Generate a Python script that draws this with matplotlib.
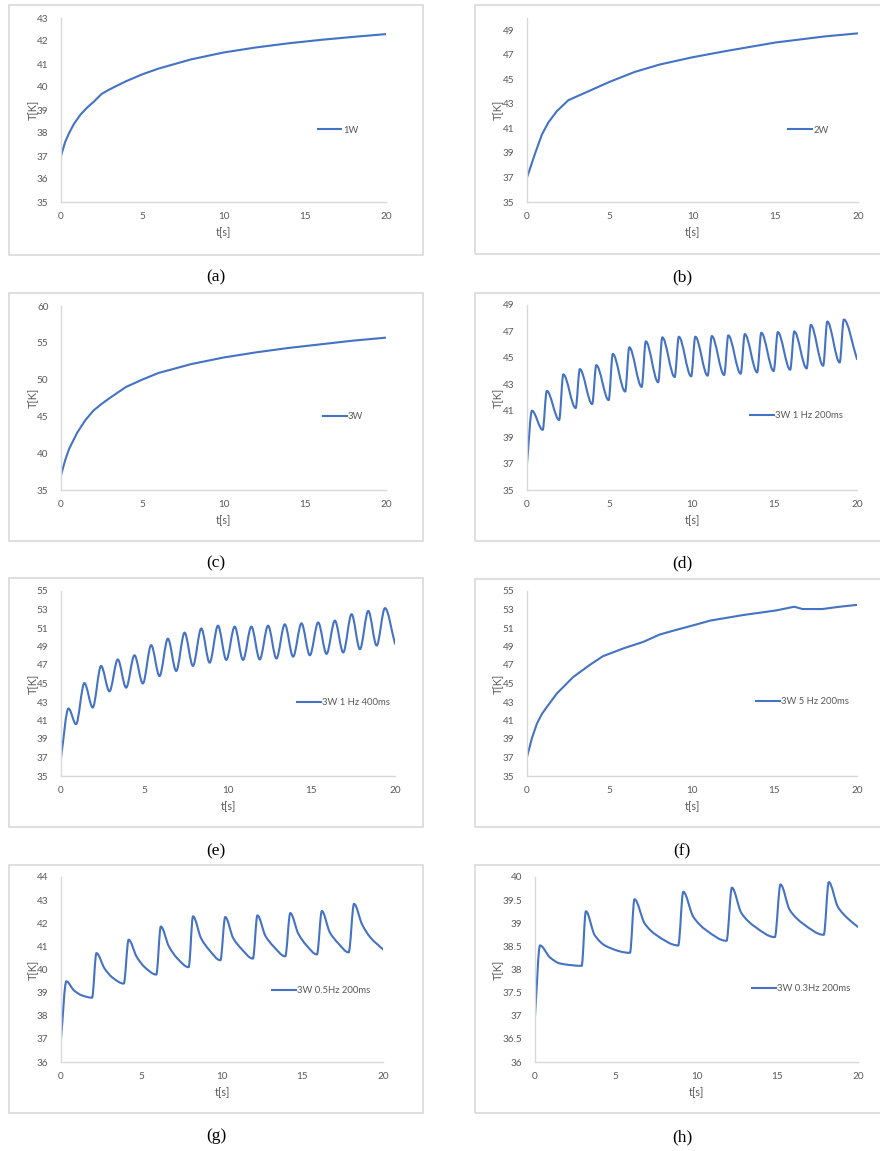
import matplotlib
matplotlib.use('Agg')
import matplotlib.pyplot as plt
from matplotlib.patches import Rectangle, PathPatch
from matplotlib.path import Path
from matplotlib.ticker import FuncFormatter

# ---- data ----
t_a = [0, 0.25, 0.5, 0.8, 1.2, 1.6, 2.0, 2.5, 3, 4, 5, 6, 7, 8, 10, 12, 14, 16, 18, 20]
T_a = [37.0, 37.6, 38.0, 38.4, 38.8, 39.1, 39.35, 39.7, 39.9, 40.25, 40.55, 40.8,
       41.0, 41.2, 41.5, 41.72, 41.9, 42.05, 42.18, 42.3]

t_b = [0, 0.25, 0.5, 0.9, 1.3, 1.8, 2.5, 3.5, 5, 6.5, 8, 10, 12, 15, 18, 20]
T_b = [37.0, 38.0, 39.0, 40.5, 41.5, 42.4, 43.3, 43.9, 44.8, 45.6, 46.2, 46.8,
       47.3, 48.0, 48.5, 48.75]

t_c = [0, 0.25, 0.5, 1.0, 1.5, 2.0, 2.5, 3.0, 4, 5, 6, 7, 8, 10, 12, 14, 16, 18, 20]
T_c = [37, 39.0, 40.6, 42.8, 44.5, 45.8, 46.7, 47.5, 49.0, 50.0, 50.9, 51.5,
       52.1, 53.0, 53.7, 54.3, 54.8, 55.3, 55.7]

t_d = [0, 0.3, 0.95, 1.2, 1.95, 2.2, 2.95, 3.2, 3.95, 4.2, 4.95, 5.2, 5.95, 6.2,
       6.95, 7.2, 7.95, 8.2, 8.95, 9.2, 9.95, 10.2, 10.95, 11.2, 11.95, 12.2,
       12.95, 13.2, 13.95, 14.2, 14.95, 15.2, 15.95, 16.2, 16.95, 17.2, 17.95,
       18.2, 18.95, 19.2, 20]
T_d = [37.0, 41.0, 39.55, 42.5, 40.3, 43.75, 41.2, 44.15, 41.5, 44.45, 41.8, 45.3,
       42.45, 45.8, 42.8, 46.25, 43.15, 46.55, 43.55, 46.6, 43.6, 46.6, 43.65,
       46.65, 43.7, 46.7, 43.8, 46.8, 43.9, 46.9, 44.0, 46.95, 44.1, 47.0, 44.2,
       47.5, 44.4, 47.75, 44.65, 47.9, 44.9]

t_e = [0, 0.45, 0.9, 1.4, 1.9, 2.4, 2.9, 3.4, 3.9, 4.4, 4.9, 5.4, 5.9, 6.4, 6.9,
       7.4, 7.9, 8.4, 8.9, 9.4, 9.9, 10.4, 10.9, 11.4, 11.9, 12.4, 12.9, 13.4,
       13.9, 14.4, 14.9, 15.4, 15.9, 16.4, 16.9, 17.4, 17.9, 18.4, 18.9, 19.4, 20]
T_e = [37.0, 42.3, 40.6, 45.05, 42.4, 46.9, 44.15, 47.6, 44.55, 48.05, 45.0, 49.15,
       45.8, 49.85, 46.35, 50.5, 46.9, 50.95, 47.25, 51.25, 47.55, 51.15, 47.55,
       51.15, 47.6, 51.25, 47.7, 51.4, 47.9, 51.5, 48.05, 51.6, 48.2, 51.8, 48.35,
       52.5, 48.7, 52.85, 49.1, 53.15, 49.3]

t_f = [0, 0.3, 0.6, 0.9, 1.2, 1.8, 2.8, 3.8, 4.6, 5.85, 7.05, 8.05, 9.05, 10.1,
       11.1, 12.1, 13.1, 14.1, 15.1, 16.2, 16.7, 17.9, 18.95, 20]
T_f = [37.05, 39.1, 40.65, 41.7, 42.45, 43.9, 45.7, 47.0, 47.95, 48.8, 49.5, 50.3,
       50.8, 51.3, 51.8, 52.1, 52.4, 52.65, 52.9, 53.3, 53.05, 53.05, 53.3, 53.5]

t_g = [0, 0.33, 0.8, 1.3, 1.93, 2.2, 2.7, 3.2, 3.9, 4.2, 4.7, 5.2, 5.92, 6.2, 6.7,
       7.2, 7.93, 8.2, 8.7, 9.2, 9.9, 10.2, 10.7, 11.2, 11.92, 12.2, 12.7, 13.2,
       13.93, 14.24, 14.74, 15.24, 15.9, 16.2, 16.7, 17.2, 17.87, 18.2, 18.7,
       19.2, 20]
T_g = [37.0, 39.49, 39.1, 38.88, 38.78, 40.71, 40.05, 39.65, 39.39, 41.29, 40.55,
       40.1, 39.78, 41.86, 41.0, 40.5, 40.1, 42.3, 41.35, 40.85, 40.4, 42.27, 41.35,
       40.9, 40.47, 42.34, 41.45, 41.0, 40.57, 42.44, 41.55, 41.05, 40.65, 42.53,
       41.6, 41.15, 40.74, 42.84, 41.95, 41.4, 40.87]

t_h = [0, 0.31, 0.93, 1.55, 2.89, 3.15, 3.7, 4.43, 5.88, 6.16, 6.8, 7.53, 8.87,
       9.18, 9.8, 10.6, 11.86, 12.19, 12.78, 13.6, 14.85, 15.2, 15.77, 16.6,
       17.88, 18.19, 18.76, 19.38, 20]
T_h = [37.0, 38.52, 38.26, 38.13, 38.08, 39.26, 38.74, 38.5, 38.36, 39.52, 38.99,
       38.74, 38.52, 39.68, 39.14, 38.85, 38.62, 39.77, 39.22, 38.93, 38.7, 39.84,
       39.29, 38.99, 38.75, 39.89, 39.35, 39.1, 38.92]

labels = ['1W', '2W', '3W', '3W 1 Hz 200ms', '3W 1 Hz 400ms', '3W 5 Hz 200ms',
          '3W 0.5Hz 200ms', '3W 0.3Hz 200ms']
captions = ['(a)', '(b)', '(c)', '(d)', '(e)', '(f)', '(g)', '(h)']
y_ranges = [(35, 43, 1), (35, 50, 2), (35, 60, 5), (35, 49, 2),
            (35, 55, 2), (35, 55, 2), (36, 44, 1), (36, 40, 0.5)]
series = [(t_a, T_a), (t_b, T_b), (t_c, T_c), (t_d, T_d),
          (t_e, T_e), (t_f, T_f), (t_g, T_g), (t_h, T_h)]
smoothed = [False, False, False, True, True, False, True, True]

# ---- layout (pixels) ----
W, H = 880, 1151
# plot area: x0, x1, ytop, ybot
plot_px = [(61, 386, 18, 202), (527, 858, 18, 202),
           (61, 386, 306, 490), (527, 857, 305, 490),
           (61, 395, 591, 776), (527, 857, 591, 776),
           (61, 383, 877, 1062), (535, 858, 877, 1062)]
# chart border boxes: x0, x1, ytop, ybot
box_px = [(9, 423, 5, 255), (475, 884, 5, 254),
          (9, 423, 293, 541), (475, 884, 293, 541),
          (9, 423, 578, 827), (475, 884, 579, 827),
          (9, 423, 865, 1113), (475, 884, 865, 1113)]
caption_px = [(216, 277), (682, 277), (216, 563), (682, 563),
              (216, 851), (682, 851), (216, 1136), (682, 1137)]
legend_pos = [(0.79, 0.39), (0.79, 0.39), (0.806, 0.40), (0.676, 0.40),
              (0.707, 0.395), (0.694, 0.40), (0.655, 0.384), (0.672, 0.395)]
ylabel_x = [33, 498, 33, 498, 33, 498, 33, 498]
xlabel_y = [233, 233, 521, 521, 807, 807, 1093, 1093]

BLUE = '#4472C4'
GREY_TXT = '#595959'
GREY_LINE = '#D9D9D9'
LW = 1.5
plt.rcParams['font.family'] = ['Lato', 'DejaVu Sans']


def smooth_path(t, T):
    # Excel-style smoothed line: monotone cubic through the data points
    n = len(t)
    d = [(T[k + 1] - T[k]) / (t[k + 1] - t[k]) for k in range(n - 1)]
    m = [d[0]]
    for k in range(1, n - 1):
        if d[k - 1] * d[k] <= 0:
            m.append(0.0)
        else:
            h0, h1 = t[k] - t[k - 1], t[k + 1] - t[k]
            w1, w2 = 2 * h1 + h0, h1 + 2 * h0
            m.append((w1 + w2) / (w1 / d[k - 1] + w2 / d[k]))
    m.append(d[-1])
    verts = [(t[0], T[0])]
    codes = [Path.MOVETO]
    for k in range(n - 1):
        h = t[k + 1] - t[k]
        verts += [(t[k] + h / 3, T[k] + m[k] * h / 3),
                  (t[k + 1] - h / 3, T[k + 1] - m[k + 1] * h / 3),
                  (t[k + 1], T[k + 1])]
        codes += [Path.CURVE4] * 3
    return Path(verts, codes)


fig = plt.figure(figsize=(W / 100, H / 100), dpi=100)
fig.patch.set_facecolor('white')

for i in range(8):
    bx0, bx1, by0, by1 = box_px[i]
    fig.add_artist(Rectangle((bx0 / W, 1 - by1 / H), (bx1 - bx0) / W, (by1 - by0) / H,
                             transform=fig.transFigure, fill=False,
                             ec=GREY_LINE, lw=1.2))

    x0, x1, yt, yb = plot_px[i]
    ax = fig.add_axes([x0 / W, 1 - yb / H, (x1 - x0) / W, (yb - yt) / H])
    t, T = series[i]
    if smoothed[i]:
        ax.add_patch(PathPatch(smooth_path(t, T), fill=False, ec=BLUE, lw=LW,
                               joinstyle='round', capstyle='round'))
        ax.plot([], [], color=BLUE, lw=LW, label=labels[i])
    else:
        ax.plot(t, T, color=BLUE, lw=LW, label=labels[i], solid_joinstyle='round')

    lo, hi, step = y_ranges[i]
    ax.set_xlim(0, 20)
    ax.set_ylim(lo, hi)
    ax.set_xticks([0, 5, 10, 15, 20])
    yt_vals = []
    v = lo
    while v <= hi + 1e-9:
        yt_vals.append(v)
        v += step
    ax.set_yticks(yt_vals)
    ax.yaxis.set_major_formatter(FuncFormatter(lambda val, pos: f'{val:g}'))

    ax.tick_params(length=0, labelsize=7.2, labelcolor=GREY_TXT)
    ax.tick_params(axis='y', pad=9)
    ax.tick_params(axis='x', pad=7)
    for s in ['top', 'right']:
        ax.spines[s].set_visible(False)
    for s in ['left', 'bottom']:
        ax.spines[s].set_color(GREY_LINE)
        ax.spines[s].set_linewidth(1.0)

    ax.set_ylabel('T[K]', fontsize=7.8, color=GREY_TXT)
    ax.yaxis.set_label_coords((ylabel_x[i] - x0) / (x1 - x0), 0.5)
    ax.yaxis.label.set_verticalalignment('center')
    ax.set_xlabel('t[s]', fontsize=7.8, color=GREY_TXT)
    ax.xaxis.set_label_coords(0.5, -(xlabel_y[i] - yb) / (yb - yt))
    ax.xaxis.label.set_verticalalignment('center')

    ax.legend(loc='center left', bbox_to_anchor=legend_pos[i], frameon=False,
              fontsize=6.8, handlelength=2.5, handletextpad=0.15,
              borderpad=0, borderaxespad=0, labelcolor=GREY_TXT)

    cx, cy = caption_px[i]
    fig.text(cx / W, 1 - cy / H, captions[i], ha='center', va='center',
             fontfamily='Liberation Serif', fontsize=12.5)

fig.savefig('out.png', dpi=100)
